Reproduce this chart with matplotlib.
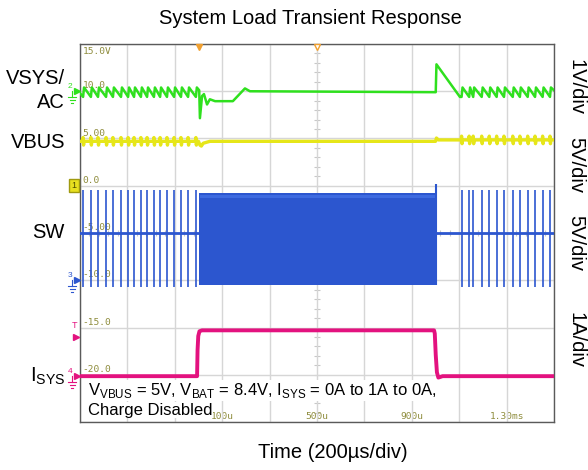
import numpy as np
import matplotlib.pyplot as plt

plt.rcParams['font.family'] = ['Liberation Sans', 'DejaVu Sans']
plt.rcParams['mathtext.fontset'] = 'custom'
plt.rcParams['mathtext.rm'] = 'Liberation Sans'

# time base: 200 us/div, trigger at t = 0
t_start, t_stop = -500, 1500
load_on, load_off = 0, 1000

# PFM switching pulses before the load step and after the load release (us)
sw_pulses_before = [-487, -454, -424, -390, -361, -327, -297, -272, -243,
                    -217, -188, -162, -133, -103, -74, -44, -11]
sw_pulses_after = [1110, 1142, 1159, 1195, 1227, 1258, 1289, 1326, 1356,
                   1389, 1420, 1452, 1483]

# channel settings: units per division, zero position (div from centre)
VSYS_SCALE, VSYS_POS = 1.0, 3.0     # ch2, AC coupled
VBUS_SCALE, VBUS_POS = 5.0, 1.0     # ch1
SW_SCALE, SW_POS = 5.0, -1.0        # ch3
ISYS_SCALE, ISYS_POS = 1.0, -3.03   # ch4

# VSYS (AC) ripple trough / peak and the transient at the load steps (V)
vsys_lo, vsys_hi = -0.12, 0.08
vsys_step_t = [3, 6, 15, 23, 36, 48, 70, 145, 196, 217, 998]
vsys_step_v = [0.02, -0.57, -0.10, -0.06, -0.28, -0.17, -0.21, -0.21, 0.06, 0.00, -0.02]
vsys_release_t = [1001, 1004, 1103]
vsys_release_v = [-0.02, 0.57, -0.12]

# VBUS level and disturbance (V)
vbus_before, vbus_after = 4.7, 4.85
vbus_spike = 0.4
vbus_step_t = [0, 6, 12, 20, 48, 998]
vbus_step_v = [4.7, 4.3, 4.2, 4.5, 4.7, 4.7]
vbus_release_t = [1000, 1004, 1012]
vbus_release_v = [4.7, 5.05, 4.85]

# SW node levels (V)
sw_idle = 5.0
sw_pulse_hi, sw_pulse_lo = 9.6, -0.7
sw_burst_hi, sw_burst_lo = 9.2, -0.5
sw_burst_edge = 10.2

# system load current (A)
isys_t = [t_start, -6, -4, -1, 4, 15, 994, 997, 1001, 1006, 1012, 1030, t_stop]
isys_a = [0, 0, 0.55, 0.85, 0.95, 0.97, 0.97, 0.9, 0.45, 0.08, -0.03, 0, 0]

# ch1 graticule readout and time readout
ch1_readout = ['15.0V', '10.0', '5.00', '0.0', '-5.00', '-10.0', '-15.0', '-20.0']
time_readout = ['100u', '500u', '900u', '1.30ms']
time_readout_t = [100, 500, 900, 1300]

GREEN = '#2fe01e'
YELLOW = '#e6e619'
BLUE = '#2c56cf'
PINK = '#e3127f'
OLIVE = '#8e8c3c'
ORANGE = '#f0a030'


def div(v, scale, pos):
    return pos + np.asarray(v, dtype=float) / scale


def sawtooth(pulses, lo, hi):
    tt, vv = [], []
    for p in pulses:
        tt += [p, p + 4]
        vv += [lo, hi]
    return tt, vv


fig = plt.figure(figsize=(5.88, 4.70), dpi=100)
ax = fig.add_axes([80 / 588, 48 / 470, 474 / 588, 378 / 470])
ax.set_xlim(t_start, t_stop)
ax.set_ylim(-4, 4)
ax.set_xticks(np.arange(t_start, t_stop + 1, 200))
ax.set_yticks(np.arange(-4, 5, 1))
ax.tick_params(length=0, labelleft=False, labelbottom=False)
ax.grid(color='#d6d6d6', lw=1.0, zorder=0)
for s in ax.spines.values():
    s.set_color('#5a5a5a')
    s.set_linewidth(1.0)

# fine ticks on the centre lines
ax.plot(np.full(41, 500), np.linspace(-4, 4, 41), ls='none', marker='_',
        ms=4, mew=0.8, color='#c8c8c8', zorder=1)
ax.plot(np.linspace(t_start, t_stop, 51), np.zeros(51), ls='none', marker='|',
        ms=4, mew=0.8, color='#c8c8c8', zorder=1)

# scope readouts
for i, lab in enumerate(ch1_readout):
    y = 4 - i
    if i == 0:
        ax.text(-489, y - 0.06, lab, fontsize=6.8, family='DejaVu Sans Mono',
                color=OLIVE, va='top', ha='left', zorder=1)
    else:
        ax.text(-489, y + 0.02, lab, fontsize=6.8, family='DejaVu Sans Mono',
                color=OLIVE, va='bottom', ha='left', zorder=1)
for tt, lab in zip(time_readout_t, time_readout):
    ax.text(tt, -3.97, lab, fontsize=6.8, family='DejaVu Sans Mono',
            color=OLIVE, va='bottom', ha='center', zorder=1)

# VSYS
pre_t, pre_v = sawtooth(sw_pulses_before, vsys_lo, vsys_hi)
post_t, post_v = sawtooth(sw_pulses_after, vsys_lo, vsys_hi)
vsys_t = [t_start] + pre_t + vsys_step_t + vsys_release_t + post_t + [t_stop]
vsys_v = [-0.04] + pre_v + vsys_step_v + vsys_release_v + post_v + [0.02]
ax.plot(vsys_t, div(vsys_v, VSYS_SCALE, VSYS_POS), color=GREEN, lw=1.8, zorder=3)


# VBUS
def vbus_noise(pulses, base):
    tt, vv = [], []
    for p in pulses:
        tt += [p - 2, p, p + 2, p + 4]
        vv += [base, base + vbus_spike, base - vbus_spike, base]
    return tt, vv


b_pre_t, b_pre_v = vbus_noise(sw_pulses_before, vbus_before)
b_post_t, b_post_v = vbus_noise(sw_pulses_after, vbus_after)
vbus_t = [t_start] + b_pre_t + vbus_step_t + vbus_release_t + b_post_t + [t_stop]
vbus_v = [vbus_before] + b_pre_v + vbus_step_v + vbus_release_v + b_post_v + [vbus_after]
ax.plot(vbus_t, div(vbus_v, VBUS_SCALE, VBUS_POS), color=YELLOW, lw=2.4, zorder=3)

# SW node
ax.plot([t_start, load_on + 2], div([sw_idle, sw_idle], SW_SCALE, SW_POS),
        color=BLUE, lw=2.0, zorder=3)
ax.plot([load_off + 2, t_stop], div([sw_idle, sw_idle], SW_SCALE, SW_POS),
        color=BLUE, lw=2.0, zorder=3)
ax.vlines(sw_pulses_before + sw_pulses_after,
          div(sw_pulse_lo, SW_SCALE, SW_POS), div(sw_pulse_hi, SW_SCALE, SW_POS),
          color=BLUE, lw=1.2, zorder=3)
ax.fill_between([load_on + 2, load_off + 2],
                div(sw_burst_lo, SW_SCALE, SW_POS), div(sw_burst_hi, SW_SCALE, SW_POS),
                color=BLUE, lw=0, zorder=3)
ax.fill_between([load_on + 6, load_off + 2],
                div(sw_burst_hi - 0.45, SW_SCALE, SW_POS), div(sw_burst_hi - 0.15, SW_SCALE, SW_POS),
                color='#3d6ae0', lw=0, zorder=3)
ax.vlines([load_off + 2], div(sw_burst_lo, SW_SCALE, SW_POS),
          div(sw_burst_edge, SW_SCALE, SW_POS), color=BLUE, lw=1.5, zorder=3)

# ISYS
ax.plot(isys_t, div(isys_a, ISYS_SCALE, ISYS_POS), color=PINK, lw=2.8, zorder=3)

# annotation
ax.text(-466, -3.33,
        r'V$_\mathrm{VBUS}$ = 5V, V$_\mathrm{BAT}$ = 8.4V, I$_\mathrm{SYS}$ = 0A to 1A to 0A,',
        fontsize=12, va='center', ha='left', zorder=5,
        bbox=dict(facecolor='white', edgecolor='none', pad=0.5))
ax.text(-466, -3.75, 'Charge Disabled', fontsize=12, va='center', ha='left',
        zorder=5, bbox=dict(facecolor='white', edgecolor='none', pad=0.5))

# trigger / position markers on the top edge
ax.plot([load_on], [3.93], marker='v', ms=5, color=ORANGE, clip_on=False, zorder=6)
ax.plot([500], [3.93], marker='v', ms=5, mfc='white', mec=ORANGE, mew=1,
        clip_on=False, zorder=6)

# channel markers left of the graticule
tr = ax.get_yaxis_transform()
px = 1 / 474


def ch_marker(y, label, color):
    ax.plot([-3 * px], [y], marker='>', ms=4.5, color=color, transform=tr,
            clip_on=False, zorder=6)
    ax.text(-10 * px, y + 0.02, label, fontsize=6, color=color, ha='center',
            va='bottom', transform=tr, clip_on=False)
    ax.plot([-8 * px, -8 * px], [y, y - 0.12], color=color, lw=0.8,
            transform=tr, clip_on=False)
    for w, dy in [(4, 0.12), (2.5, 0.18), (1, 0.24)]:
        ax.plot([(-8 - w) * px, (-8 + w) * px], [y - dy, y - dy], color=color,
                lw=0.8, transform=tr, clip_on=False)


ch_marker(VSYS_POS, '2', GREEN)
ch_marker(SW_POS, '3', BLUE)
ch_marker(ISYS_POS, '4', PINK)
ax.text(-6 * px, VBUS_POS, '1', fontsize=6.5, color='#4a4a00', ha='center',
        va='center', transform=tr, clip_on=False,
        bbox=dict(facecolor='#e8e020', edgecolor='#a09a10', pad=1.5))
ax.text(-6 * px, -1.95, 'T', fontsize=6.5, color=PINK, ha='center', va='center',
        transform=tr, clip_on=False)
ax.plot([-4 * px], [-2.2], marker='>', ms=4.5, color=PINK, transform=tr,
        clip_on=False, zorder=6)

# channel names and scales
fig.text(310 / 588, 1 - 18 / 470, 'System Load Transient Response', fontsize=14.5,
         ha='center', va='center')
fig.text(333 / 588, 1 - 452 / 470, 'Time (200µs/div)', fontsize=14.5,
         ha='center', va='center')
for y, lab in [(78, 'VSYS/'), (102, 'AC'), (143, 'VBUS'), (233, 'SW')]:
    fig.text(65 / 588, 1 - y / 470, lab, fontsize=14.5, ha='right', va='center')
fig.text(65 / 588, 1 - 376 / 470, r'I$_\mathrm{SYS}$', fontsize=14.5, ha='right',
         va='center')
for y, lab in [(87, '1V/div'), (165, '5V/div'), (243, '5V/div'), (340, '1A/div')]:
    fig.text(576 / 588, 1 - y / 470, lab, fontsize=14.5, ha='center', va='center',
             rotation=-90)

fig.savefig('out.png', dpi=100)
